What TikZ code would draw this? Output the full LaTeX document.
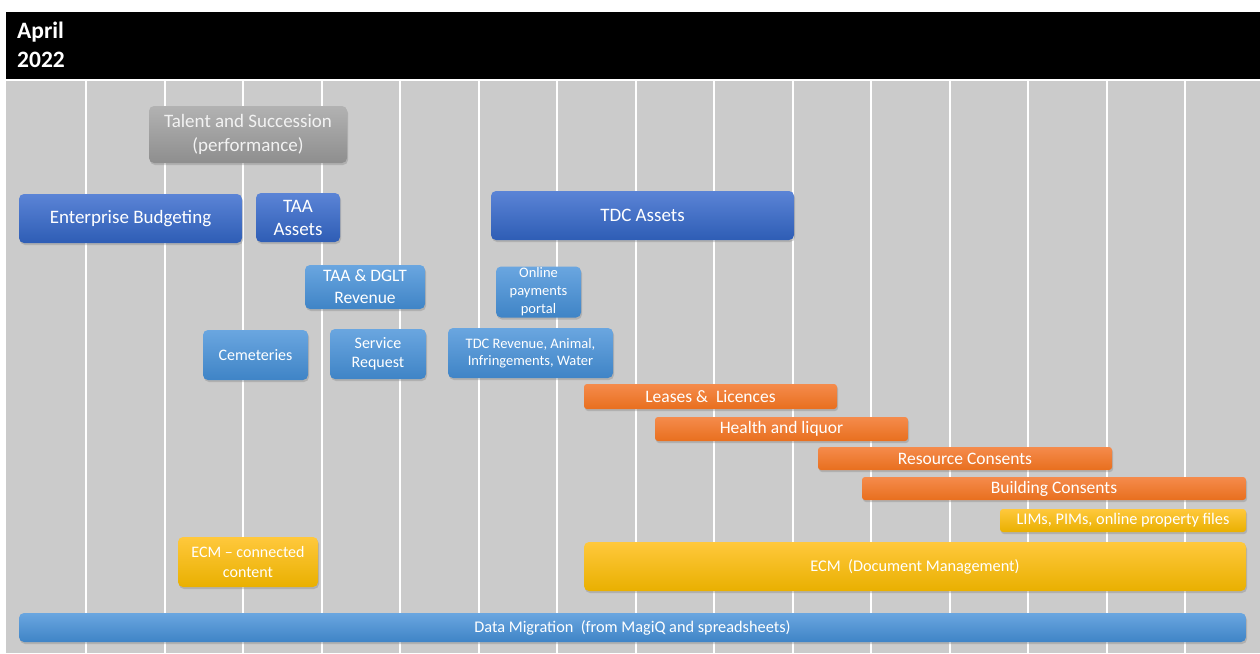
\documentclass[tikz,border=0pt]{standalone}
\usepackage{fontspec}
\setmainfont{Carlito}
\usepackage{tikz}
\usetikzlibrary{shadows}
\definecolor{bggray}{HTML}{CBCBCB}
\definecolor{darkbluetop}{HTML}{5B84D6}
\definecolor{darkbluebot}{HTML}{2E5DB5}
\definecolor{lightbluetop}{HTML}{6AA6E0}
\definecolor{lightbluebot}{HTML}{3F84C6}
\definecolor{orangetop}{HTML}{F58B4C}
\definecolor{orangebot}{HTML}{E86F1E}
\definecolor{goldtop}{HTML}{FFC83C}
\definecolor{goldbot}{HTML}{E9B000}
\definecolor{graytop}{HTML}{B2B2B2}
\definecolor{graybot}{HTML}{8E8E8E}
\newcommand{\fs}[2]{\fontsize{#1}{#2}\selectfont}

\begin{document}
\begin{tikzpicture}[x=1pt,y=-1pt
        ,task/.style = {rounded corners=5pt, text=white, align=center, inner sep=0pt,
                        drop shadow={opacity=0.35, shadow xshift=1pt, shadow yshift=-2pt}}
        ,darkbar/.style = {task, top color=darkbluetop, bottom color=darkbluebot}
        ,lightbar/.style = {task, top color=lightbluetop, bottom color=lightbluebot}
        ,orangebar/.style = {task, top color=orangetop, bottom color=orangebot, rounded corners=3pt}
        ,goldbar/.style = {task, top color=goldtop, bottom color=goldbot}
        ,graybar/.style = {task, top color=graytop, bottom color=graybot, text=white!95!black}
        ,gridline/.style = {white, line width=2pt}
      ]
      \useasboundingbox (0,0) rectangle (1260,653);

      % background and header
      \fill[bggray] (6,81) rectangle (1260,653);
      \fill[black] (6,12) rectangle (1260,79);
      \node[anchor=north west, text=white, align=left, font=\fs{23.5}{29}\bfseries, inner sep=0pt] (title) at (17,22) {April\\2022};

      % month grid
      \foreach \i in {0,...,14}
        \draw[gridline] (86+78.5*\i,81) -- (86+78.5*\i,653);

      % assets and finance
      \node[graybar, minimum width=198, minimum height=57, font=\fs{19}{24}] (talent) at (248,134.5) {Talent and Succession\\(performance)};
      \node[darkbar, minimum width=223, minimum height=49, font=\fs{19}{23}] (entbud) at (130.5,218.5) {Enterprise Budgeting};
      \node[darkbar, minimum width=84, minimum height=49, font=\fs{19}{23}] (taaassets) at (298,217.5) {TAA\\Assets};
      \node[darkbar, minimum width=303, minimum height=49, font=\fs{19}{23}] (tdcassets) at (642.5,215.5) {TDC Assets};

      % revenue
      \node[lightbar, minimum width=120, minimum height=44, font=\fs{17.5}{22}] (taarev) at (365,287) {TAA \& DGLT\\Revenue};
      \node[lightbar, minimum width=85, minimum height=51, font=\fs{14.5}{18}] (online) at (538.5,292) {Online\\payments\\portal};
      \node[lightbar, minimum width=105, minimum height=50, font=\fs{16}{19}] (cemeteries) at (255.5,355) {Cemeteries};
      \node[lightbar, minimum width=96, minimum height=50, font=\fs{16}{19}] (servreq) at (378,354) {Service\\Request};
      \node[lightbar, minimum width=165, minimum height=50, font=\fs{14.5}{17}] (tdcrev) at (530.5,353) {TDC Revenue, Animal,\\Infringements, Water};

      % regulatory
      \node[orangebar, minimum width=253, minimum height=25, font=\fs{17.5}{20}] (leases) at (710.5,396.5) {Leases \&\ \ Licences};
      \node[orangebar, minimum width=253, minimum height=24, font=\fs{17.5}{20}] (health) at (781.5,429) {Health and liquor};
      \node[orangebar, minimum width=294, minimum height=23, font=\fs{17.5}{20}] (resource) at (965,458.5) {Resource Consents};
      \node[orangebar, minimum width=384, minimum height=23, font=\fs{17.5}{20}] (building) at (1054,488.5) {Building Consents};

      % content management
      \node[goldbar, rounded corners=3pt, minimum width=246, minimum height=23, font=\fs{16.3}{19}] (lims) at (1123,520.5) {LIMs, PIMs, online property files};
      \node[goldbar, minimum width=140, minimum height=50, font=\fs{16}{20}] (ecmcc) at (248,562) {ECM -- connected\\content};
      \node[goldbar, minimum width=662, minimum height=49, font=\fs{16.3}{19}] (ecmdoc) at (915,566.5) {ECM\ \ (Document Management)};

      % migration
      \node[lightbar, minimum width=1227, minimum height=29, font=\fs{16.3}{19}] (datamig) at (632.5,627.5) {Data Migration\ \ (from MagiQ and spreadsheets)};
    \end{tikzpicture}
\end{document}
